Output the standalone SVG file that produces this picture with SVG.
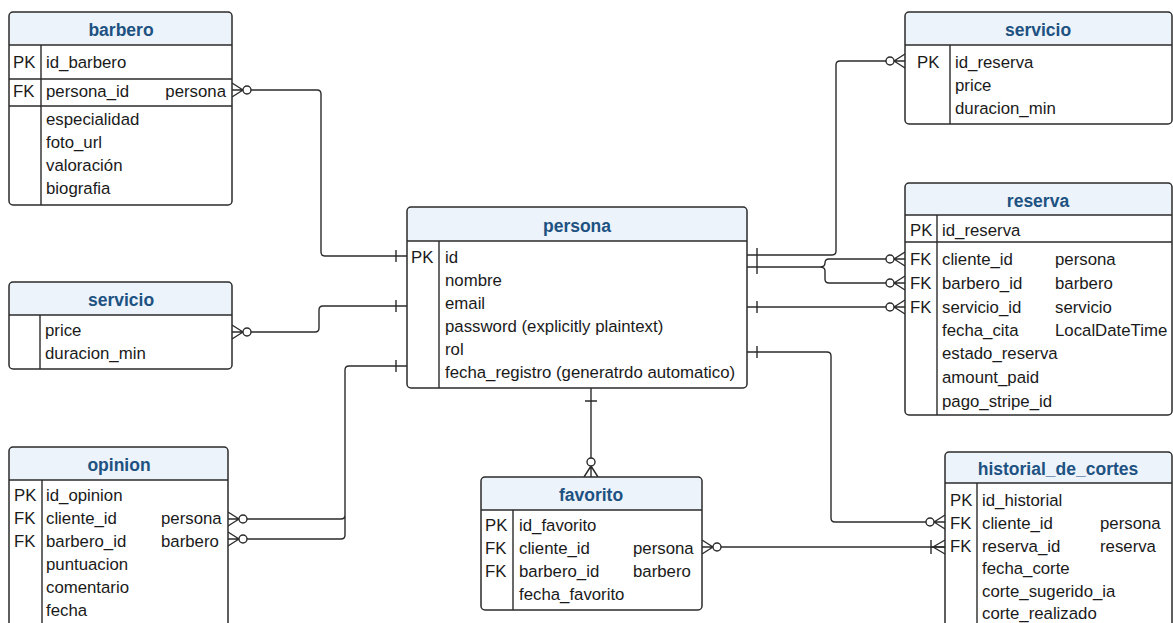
<svg xmlns="http://www.w3.org/2000/svg" xmlns:xlink="http://www.w3.org/1999/xlink" width="1173" height="623" viewBox="0 0 1173 623">
<style>
.bg{fill:#ffffff}
.box{fill:none;stroke:#2b2b2b;stroke-width:1.5}
.body{fill:#ffffff}
.hdr{fill:#edf3fa}
.ln{fill:none;stroke:#2b2b2b;stroke-width:1.4}
.t{font-family:"Liberation Sans",Arial,sans-serif;font-size:16.8px;fill:#1a1a1a}
.ttl{font-family:"Liberation Sans",Arial,sans-serif;font-size:17.5px;font-weight:bold;fill:#1d5282;text-anchor:middle}
.c{fill:none;stroke:#2b2b2b;stroke-width:1.4}
.cc{fill:#ffffff;stroke:#2b2b2b;stroke-width:1.4}
</style>
<defs>
<g id="zmR"><path class="c" d="M0,-7 L11,0 M0,7 L11,0 M0,0 L11,0"/><circle class="cc" cx="15" cy="0" r="4"/></g>
<g id="omR"><path class="c" d="M0,-7 L12,0 M0,7 L12,0 M0,0 L14,0 M14,-7 V7"/></g>
</defs>
<rect class="bg" x="0" y="0" width="1173" height="623"/>

<g id="connectors">
<path class="c" d="M251,90 H317 Q321,90 321,94 V252 Q321,256 325,256 H407"/>
<path class="c" d="M251,332 H315 Q319,332 319,328 V310 Q319,306 323,306 H407"/>
<path class="c" d="M247,539 H341 Q345,539 345,535 V370 Q345,366 349,366 H407 M247,519 H341 Q345,519 345,515"/>
<path class="c" d="M747,255 H832 Q836,255 836,251 V65 Q836,61 840,61 H886"/>
<path class="c" d="M747,267 H820 Q825,267 825,263 Q825,259 829,259 H886 M820,267 Q825,267 825,271 V279 Q825,283 829,283 H886"/>
<path class="c" d="M747,307 H886"/>
<path class="c" d="M747,352 H827 Q831,352 831,356 V518 Q831,522 835,522 H926"/>
<path class="c" d="M721,547 H945"/>
<path class="c" d="M591,388 V458"/>
<path class="c" d="M396,250 V262 M396,300 V312 M396,360 V372 M757,248 V274 M757,301 V313 M757,346 V358 M585,401 H597"/>
<use xlink:href="#zmR" href="#zmR" x="232" y="90"/>
<use xlink:href="#zmR" href="#zmR" x="232" y="332"/>
<use xlink:href="#zmR" href="#zmR" x="228" y="519"/>
<use xlink:href="#zmR" href="#zmR" x="228" y="539"/>
<use xlink:href="#zmR" href="#zmR" x="702" y="547"/>
<use xlink:href="#zmR" href="#zmR" transform="translate(905,61) scale(-1,1)"/>
<use xlink:href="#zmR" href="#zmR" transform="translate(905,259) scale(-1,1)"/>
<use xlink:href="#zmR" href="#zmR" transform="translate(905,283) scale(-1,1)"/>
<use xlink:href="#zmR" href="#zmR" transform="translate(905,307) scale(-1,1)"/>
<use xlink:href="#zmR" href="#zmR" transform="translate(945,522) scale(-1,1)"/>
<use xlink:href="#omR" href="#omR" transform="translate(945,547) scale(-1,1)"/>
<use xlink:href="#zmR" href="#zmR" transform="translate(591,477) rotate(-90)"/>
</g>

<g id="barbero">
<rect class="body" x="9" y="12" width="223" height="193" rx="4"/>
<path class="hdr" d="M9,45 V16 q0,-4 4,-4 H228 q4,0 4,4 V45 Z"/>
<path class="ln" d="M9,45 H232 M9,79 H232 M9,106 H232 M41,45 V205"/>
<rect class="box" x="9" y="12" width="223" height="193" rx="4"/>
<text class="ttl" x="121" y="36">barbero</text>
<text class="t" x="13" y="68">PK</text><text class="t" x="46" y="68">id_barbero</text>
<text class="t" x="13" y="97">FK</text><text class="t" x="46" y="97">persona_id</text><text class="t" x="226" y="97" text-anchor="end">persona</text>
<text class="t" x="46" y="125">especialidad</text>
<text class="t" x="46" y="148">foto_url</text>
<text class="t" x="46" y="171">valoración</text>
<text class="t" x="46" y="194">biografia</text>
</g>

<g id="servicio-left">
<rect class="body" x="9" y="282" width="223" height="87" rx="4"/>
<path class="hdr" d="M9,315 V286 q0,-4 4,-4 H228 q4,0 4,4 V315 Z"/>
<path class="ln" d="M9,315 H232 M40,315 V369"/>
<rect class="box" x="9" y="282" width="223" height="87" rx="4"/>
<text class="ttl" x="121" y="306">servicio</text>
<text class="t" x="45" y="336">price</text>
<text class="t" x="45" y="359">duracion_min</text>
</g>

<g id="opinion">
<rect class="body" x="9" y="447" width="219" height="200" rx="4"/>
<path class="hdr" d="M9,480 V451 q0,-4 4,-4 H224 q4,0 4,4 V480 Z"/>
<path class="ln" d="M9,480 H228 M42,480 V647"/>
<rect class="box" x="9" y="447" width="219" height="200" rx="4"/>
<text class="ttl" x="119" y="471">opinion</text>
<text class="t" x="14" y="501">PK</text><text class="t" x="46" y="501">id_opinion</text>
<text class="t" x="14" y="524">FK</text><text class="t" x="46" y="524">cliente_id</text><text class="t" x="161" y="524">persona</text>
<text class="t" x="14" y="547">FK</text><text class="t" x="46" y="547">barbero_id</text><text class="t" x="161" y="547">barbero</text>
<text class="t" x="46" y="570">puntuacion</text>
<text class="t" x="46" y="593">comentario</text>
<text class="t" x="46" y="616">fecha</text>
</g>

<g id="persona">
<rect class="body" x="407" y="207" width="340" height="181" rx="4"/>
<path class="hdr" d="M407,241 V211 q0,-4 4,-4 H743 q4,0 4,4 V241 Z"/>
<path class="ln" d="M407,241 H747 M439,241 V388"/>
<rect class="box" x="407" y="207" width="340" height="181" rx="4"/>
<text class="ttl" x="577" y="232">persona</text>
<text class="t" x="411" y="263">PK</text><text class="t" x="445" y="263">id</text>
<text class="t" x="445" y="286">nombre</text>
<text class="t" x="445" y="309">email</text>
<text class="t" x="445" y="332">password (explicitly plaintext)</text>
<text class="t" x="445" y="355">rol</text>
<text class="t" x="445" y="378">fecha_registro (generatrdo automatico)</text>
</g>

<g id="favorito">
<rect class="body" x="481" y="477" width="221" height="133" rx="4"/>
<path class="hdr" d="M481,510 V481 q0,-4 4,-4 H698 q4,0 4,4 V510 Z"/>
<path class="ln" d="M481,510 H702 M513,510 V610"/>
<rect class="box" x="481" y="477" width="221" height="133" rx="4"/>
<text class="ttl" x="591" y="501">favorito</text>
<text class="t" x="485" y="531">PK</text><text class="t" x="519" y="531">id_favorito</text>
<text class="t" x="485" y="554">FK</text><text class="t" x="519" y="554">cliente_id</text><text class="t" x="633" y="554">persona</text>
<text class="t" x="485" y="577">FK</text><text class="t" x="519" y="577">barbero_id</text><text class="t" x="633" y="577">barbero</text>
<text class="t" x="519" y="600">fecha_favorito</text>
</g>

<g id="servicio-right">
<rect class="body" x="905" y="12" width="267" height="112" rx="4"/>
<path class="hdr" d="M905,45 V16 q0,-4 4,-4 H1168 q4,0 4,4 V45 Z"/>
<path class="ln" d="M905,45 H1172 M950,45 V124"/>
<rect class="box" x="905" y="12" width="267" height="112" rx="4"/>
<text class="ttl" x="1038" y="36">servicio</text>
<text class="t" x="917" y="68">PK</text><text class="t" x="955" y="68">id_reserva</text>
<text class="t" x="955" y="91">price</text>
<text class="t" x="955" y="114">duracion_min</text>
</g>

<g id="reserva">
<rect class="body" x="905" y="183" width="267" height="232" rx="4"/>
<path class="hdr" d="M905,215 V187 q0,-4 4,-4 H1168 q4,0 4,4 V215 Z"/>
<path class="ln" d="M905,215 H1172 M905,242 H1172 M937,215 V415"/>
<rect class="box" x="905" y="183" width="267" height="232" rx="4"/>
<text class="ttl" x="1038" y="207">reserva</text>
<text class="t" x="910" y="236">PK</text><text class="t" x="942" y="236">id_reserva</text>
<text class="t" x="910" y="265">FK</text><text class="t" x="942" y="265">cliente_id</text><text class="t" x="1055" y="265">persona</text>
<text class="t" x="910" y="289">FK</text><text class="t" x="942" y="289">barbero_id</text><text class="t" x="1055" y="289">barbero</text>
<text class="t" x="910" y="313">FK</text><text class="t" x="942" y="313">servicio_id</text><text class="t" x="1055" y="313">servicio</text>
<text class="t" x="942" y="336">fecha_cita</text><text class="t" x="1055" y="336">LocalDateTime</text>
<text class="t" x="942" y="359">estado_reserva</text>
<text class="t" x="942" y="383">amount_paid</text>
<text class="t" x="942" y="407">pago_stripe_id</text>
</g>

<g id="historial_de_cortes">
<rect class="body" x="945" y="452" width="227" height="195" rx="4"/>
<path class="hdr" d="M945,483 V456 q0,-4 4,-4 H1168 q4,0 4,4 V483 Z"/>
<path class="ln" d="M945,483 H1172 M977,483 V647"/>
<rect class="box" x="945" y="452" width="227" height="195" rx="4"/>
<text class="ttl" x="1058" y="475">historial_de_cortes</text>
<text class="t" x="950" y="506">PK</text><text class="t" x="982" y="506">id_historial</text>
<text class="t" x="950" y="529">FK</text><text class="t" x="982" y="529">cliente_id</text><text class="t" x="1100" y="529">persona</text>
<text class="t" x="950" y="552">FK</text><text class="t" x="982" y="552">reserva_id</text><text class="t" x="1100" y="552">reserva</text>
<text class="t" x="982" y="574">fecha_corte</text>
<text class="t" x="982" y="597">corte_sugerido_ia</text>
<text class="t" x="982" y="619">corte_realizado</text>
</g>
</svg>
